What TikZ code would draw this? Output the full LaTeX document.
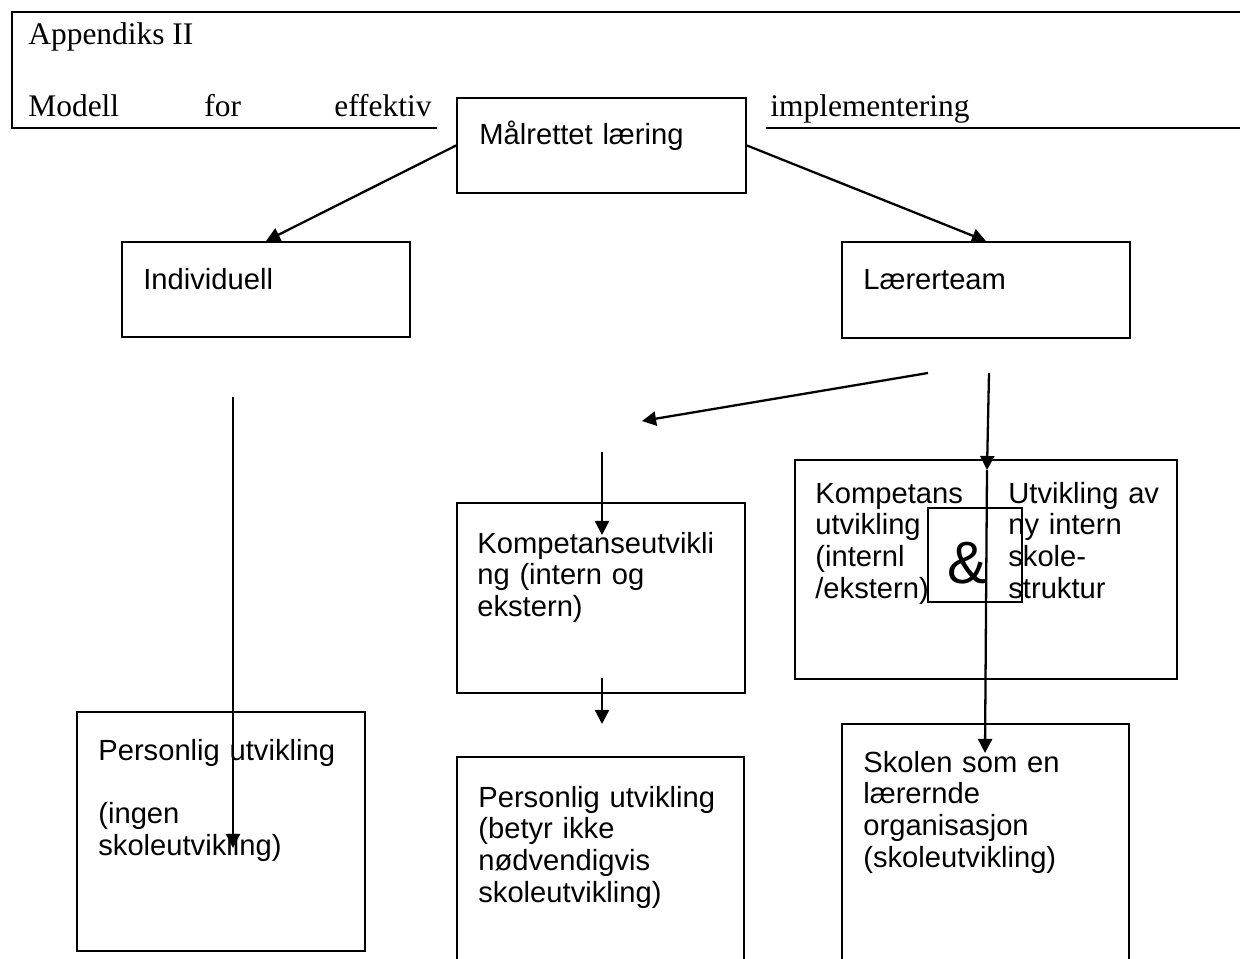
\documentclass[tikz,border=0pt]{standalone}
\usepackage{fontspec}
\setmainfont{Liberation Sans}
\newfontfamily\seriffont{Liberation Serif}
\usetikzlibrary{arrows.meta,fit}

\begin{document}
\begin{tikzpicture}[x=0.02cm,y=-0.02cm,
        boks/.style={draw,line width=1.1pt,inner sep=0pt},
        tekst/.style={font=\fontsize{16.6pt}{18.1pt}\selectfont,anchor=base west,inner sep=0pt,align=left,text width=7cm},
        hode/.style={font=\seriffont\fontsize{17.9pt}{20pt}\selectfont,anchor=base west,inner sep=0pt},
        pil/.style={line width=1.3pt,-{Triangle[length=8pt,width=8pt]}}]
        \useasboundingbox (0,0) rectangle (1240,959);
        \clip (0,0) rectangle (1240,959);

        % header
        \draw[line width=1.1pt] (1240,12) -- (12,12) -- (12,128) -- (437,128);
        \draw[line width=1.1pt] (766,128) -- (1240,128);
        \node[hode] (appendiks) at (28,45) {Appendiks II};
        \node[hode] (modell) at (28,117) {Modell};
        \node[hode] (for) at (204,117) {for};
        \node[hode] (effektiv) at (334,117) {effektiv};
        \node[hode] (impl) at (770,117) {implementering};

        % boxes
        \node[boks,fit={(457,98) (746,193)}] (malrettet) {};
        \node[boks,fit={(122,242) (410,337)}] (individuell) {};
        \node[boks,fit={(842,242) (1130,338)}] (laererteam) {};
        \node[boks,fit={(457,503) (745,693)}] (kompintern) {};
        \node[boks,fit={(795,460) (1177,679)}] (kompstruktur) {};
        \node[draw,line width=0.8pt,inner sep=0pt,fit={(928,508) (1022,602)}] (ogboks) {};
        \node[boks,fit={(77,712) (365,951)}] (personlig) {};
        \node[boks,fit={(457,757) (744,990)}] (personligb) {};
        \node[boks,fit={(842,724) (1129,990)}] (skolen) {};

        % texts
        \node[tekst] (malrettettxt) at (479,145) {Målrettet læring};
        \node[tekst] (individuelltxt) at (143,290) {Individuell};
        \node[tekst] (laererteamtxt) at (863,290) {Lærerteam};
        \node[tekst] (kompinterntxt) at (477,553) {Kompetanseutvikli\\ng (intern og\\ekstern)};
        \node[tekst] (kompetanstxt) at (815,503) {Kompetans\\utvikling\\(internl\\/ekstern)};
        \node[tekst] (strukturtxt) at (1008,503) {Utvikling av\\ny intern\\skole-\\struktur};
        \node[font=\fontsize{34pt}{36pt}\selectfont,anchor=base,inner sep=0pt] (og) at (967,583) {\&};
        \node[tekst] (personligtxt) at (98,760) {Personlig utvikling\\[18.1pt](ingen\\skoleutvikling)};
        \node[tekst] (personligbtxt) at (478,807) {Personlig utvikling\\(betyr ikke\\nødvendigvis\\skoleutvikling)};
        \node[tekst] (skolentxt) at (863,772) {Skolen som en\\lærernde\\organisasjon\\(skoleutvikling)};

        % arrows
        \coordinate (a1) at (928,373);
        \coordinate (b1) at (642,421);
        \coordinate (a2) at (989,373);
        \coordinate (b2) at (987,470);
        \coordinate (c2) at (985,753);
        \coordinate (a3) at (602,452);
        \coordinate (b3) at (602,535);
        \coordinate (a4) at (602,678);
        \coordinate (b4) at (602,724);
        \coordinate (a5) at (233,397);
        \coordinate (b5) at (233,848);

        \draw[pil] (malrettet.west) -- (individuell.north);
        \draw[pil] (malrettet.east) -- (laererteam.north);
        \draw[pil] (a1) -- (b1);
        \draw[pil] (a2) -- (b2);
        \draw[pil] (b2) -- (c2);
        \draw[pil] (a3) -- (b3);
        \draw[pil] (a4) -- (b4);
        \draw[pil] (a5) -- (b5);
    \end{tikzpicture}
\end{document}
